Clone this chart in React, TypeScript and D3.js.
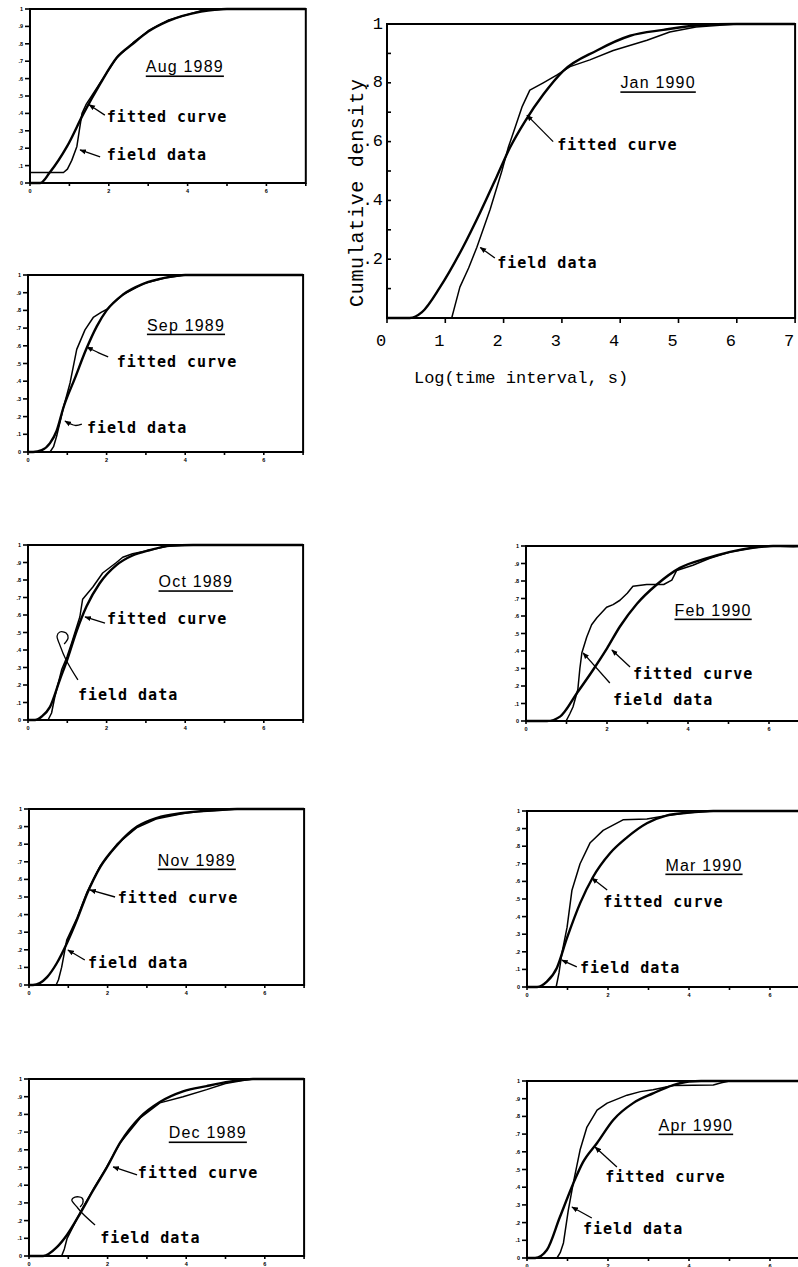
import React, { useEffect } from 'react';
import * as d3 from 'd3';

type Pt = [number, number];

// ---------- labels / ticks ----------
const titles = ['Aug 1989', 'Sep 1989', 'Oct 1989', 'Nov 1989', 'Dec 1989', 'Jan 1990', 'Feb 1990', 'Mar 1990', 'Apr 1990'];
const fittedText = 'fitted curve';
const fieldText = 'field data';
const xAxisTitle = 'Log(time interval, s)';
const yAxisTitle = 'Cumulative density';
const xTicks = [0, 1, 2, 3, 4, 5, 6, 7];
const xTickLabelsSmall = ['0', '', '2', '', '4', '', '6', ''];
const xTickLabelsBig = ['0', '1', '2', '3', '4', '5', '6', '7'];
const yTicks = [0, 0.1, 0.2, 0.3, 0.4, 0.5, 0.6, 0.7, 0.8, 0.9, 1];
const yTickLabelsSmall = ['0', '.1', '.2', '.3', '.4', '.5', '.6', '.7', '.8', '.9', '1'];
const yTickLabelsBig = ['', '', '.2', '', '.4', '', '.6', '', '.8', '', '1'];

// ---------- series (x = log time interval, y = cumulative density) ----------
const augFitted: Pt[] = [[0, 0], [0.26, 0], [0.5, 0.06], [0.94, 0.21], [1.36, 0.4], [1.78, 0.57], [2.2, 0.72], [2.61, 0.8], [3.0, 0.87], [3.5, 0.93], [4.34, 0.985], [5.0, 1], [7, 1]];
const augField: Pt[] = [[0, 0.06], [0.85, 0.06], [0.95, 0.08], [1.06, 0.13], [1.19, 0.21], [1.25, 0.3], [1.32, 0.4], [1.42, 0.45], [1.78, 0.575], [2.2, 0.72], [2.61, 0.805], [3.0, 0.875], [3.5, 0.935], [4.34, 0.99], [5.0, 1], [7, 1]];

const sepFitted: Pt[] = [[0, 0], [0.13, 0], [0.35, 0.01], [0.56, 0.05], [0.73, 0.12], [0.9, 0.25], [1.2, 0.42], [1.48, 0.58], [1.75, 0.71], [2.0, 0.8], [2.42, 0.89], [2.93, 0.95], [3.5, 0.985], [4.0, 1], [7, 1]];
const sepField: Pt[] = [[0, 0], [0.56, 0], [0.65, 0.03], [0.73, 0.09], [0.9, 0.25], [1.07, 0.39], [1.24, 0.58], [1.45, 0.69], [1.66, 0.76], [1.87, 0.79], [2.0, 0.805], [2.42, 0.89], [2.93, 0.95], [3.5, 0.985], [4.0, 1], [7, 1]];

const octFitted: Pt[] = [[0, 0], [0.18, 0], [0.35, 0.02], [0.56, 0.075], [0.81, 0.23], [0.99, 0.34], [1.24, 0.51], [1.49, 0.65], [1.82, 0.78], [2.25, 0.885], [2.66, 0.94], [3.09, 0.97], [3.6, 0.995], [4.2, 1], [7, 1]];
const octField: Pt[] = [[0, 0], [0.51, 0], [0.6, 0.04], [0.68, 0.13], [0.86, 0.29], [0.99, 0.36], [1.11, 0.44], [1.32, 0.59], [1.39, 0.69], [1.65, 0.76], [1.9, 0.84], [2.25, 0.9], [2.41, 0.93], [2.66, 0.95], [3.09, 0.97], [3.6, 0.995], [4.2, 1], [7, 1]];

const novFitted: Pt[] = [[0, 0], [0.1, 0], [0.46, 0.045], [0.71, 0.125], [0.97, 0.24], [1.22, 0.37], [1.48, 0.52], [1.81, 0.67], [2.24, 0.795], [2.75, 0.9], [3.26, 0.95], [3.92, 0.977], [4.77, 0.995], [5.3, 1], [7, 1]];
const novField: Pt[] = [[0, 0], [0.69, 0], [0.75, 0.03], [0.83, 0.1], [0.96, 0.255], [1.22, 0.38], [1.48, 0.53], [1.81, 0.675], [2.24, 0.8], [2.75, 0.895], [3.26, 0.945], [3.92, 0.975], [4.3, 0.985], [4.77, 0.99], [5.3, 1], [7, 1]];

const decFitted: Pt[] = [[0, 0], [0.36, 0], [0.71, 0.05], [0.97, 0.12], [1.3, 0.24], [1.63, 0.37], [1.98, 0.5], [2.32, 0.64], [2.83, 0.785], [3.33, 0.87], [3.92, 0.93], [4.52, 0.96], [5.1, 0.985], [5.7, 1], [7, 1]];
const decField: Pt[] = [[0, 0], [0.83, 0], [0.9, 0.04], [0.97, 0.1], [1.3, 0.245], [1.63, 0.375], [1.98, 0.505], [2.32, 0.64], [2.83, 0.78], [3.33, 0.865], [3.92, 0.9], [4.52, 0.94], [5.0, 0.975], [5.4, 0.99], [5.7, 1], [7, 1]];

const janFitted: Pt[] = [[0, 0], [0.39, 0], [0.6, 0.02], [0.91, 0.105], [1.3, 0.24], [1.6, 0.36], [1.88, 0.48], [2.11, 0.58], [2.37, 0.67], [2.68, 0.76], [3.02, 0.84], [3.6, 0.91], [4.17, 0.96], [4.74, 0.98], [5.3, 0.995], [6, 1], [7, 1]];
const janField: Pt[] = [[0, 0], [1.11, 0], [1.15, 0.03], [1.25, 0.105], [1.4, 0.17], [1.54, 0.24], [1.77, 0.37], [1.97, 0.5], [2.08, 0.58], [2.2, 0.65], [2.32, 0.72], [2.45, 0.775], [2.68, 0.8], [2.91, 0.826], [3.14, 0.855], [3.48, 0.878], [3.88, 0.91], [4.46, 0.945], [4.85, 0.973], [5.3, 0.99], [6, 1], [7, 1]];

const febFitted: Pt[] = [[0, 0], [0.52, 0], [0.84, 0.025], [1.26, 0.16], [1.65, 0.29], [2.0, 0.415], [2.32, 0.54], [2.74, 0.67], [3.23, 0.78], [3.8, 0.875], [4.47, 0.93], [5.04, 0.966], [5.6, 0.99], [6.1, 1], [7, 1]];
const febField: Pt[] = [[0, 0], [0.99, 0], [1.08, 0.04], [1.16, 0.08], [1.28, 0.18], [1.33, 0.3], [1.38, 0.39], [1.5, 0.48], [1.62, 0.55], [1.75, 0.59], [1.99, 0.65], [2.15, 0.665], [2.32, 0.69], [2.5, 0.73], [2.64, 0.77], [2.98, 0.78], [3.4, 0.78], [3.6, 0.805], [3.72, 0.86], [4.12, 0.89], [4.54, 0.93], [5.04, 0.966], [5.6, 0.99], [6.1, 1], [6.6, 0.995], [7, 1]];

const marFitted: Pt[] = [[0, 0], [0.25, 0], [0.49, 0.03], [0.74, 0.11], [0.99, 0.28], [1.31, 0.475], [1.63, 0.625], [2.05, 0.76], [2.47, 0.85], [2.96, 0.93], [3.46, 0.975], [3.95, 0.99], [4.6, 1], [7, 1]];
const marField: Pt[] = [[0, 0], [0.72, 0], [0.79, 0.08], [0.86, 0.19], [0.99, 0.34], [1.11, 0.55], [1.31, 0.7], [1.56, 0.82], [1.88, 0.89], [2.37, 0.95], [2.96, 0.955], [3.46, 0.975], [3.95, 0.99], [4.6, 1], [7, 1]];

const aprFitted: Pt[] = [[0, 0], [0.2, 0], [0.49, 0.045], [0.81, 0.23], [1.14, 0.42], [1.38, 0.54], [1.73, 0.65], [2.13, 0.78], [2.62, 0.875], [3.11, 0.93], [3.61, 0.977], [4.0, 0.997], [4.3, 1], [7, 1]];
const aprField: Pt[] = [[0, 0], [0.74, 0], [0.82, 0.03], [0.9, 0.085], [1.02, 0.27], [1.14, 0.42], [1.31, 0.61], [1.48, 0.74], [1.73, 0.835], [1.98, 0.875], [2.47, 0.92], [2.8, 0.94], [3.11, 0.95], [3.61, 0.975], [4.6, 0.977], [4.8, 0.99], [5.0, 1], [7, 1]];

// ---------- layout (pixel frames; annotation anchors in data units) ----------
type Ann = { t: Pt; fl: Pt; fa: Pt[]; dl: Pt; da: Pt[] };
type Panel = { title: string; fitted: Pt[]; field: Pt[]; left: number; top: number; bottom: number; unit: number; big: boolean; ann: Ann };

const panels: Panel[] = [
  { title: titles[0], fitted: augFitted, field: augField, left: 30, top: 9, bottom: 183, unit: 39.4, big: false,
    ann: { t: [3.93, 0.667], fl: [1.95, 0.38], fa: [[1.9, 0.39], [1.5, 0.45]], dl: [1.95, 0.16], da: [[1.78, 0.15], [1.27, 0.19]] } },
  { title: titles[1], fitted: sepFitted, field: sepField, left: 28, top: 275, bottom: 452, unit: 39.3, big: false,
    ann: { t: [4.02, 0.717], fl: [2.26, 0.51], fa: [[2.04, 0.537], [1.8, 0.56], [1.5, 0.593]], dl: [1.5, 0.136], da: [[1.37, 0.158], [1.2, 0.15], [0.94, 0.175]] } },
  { title: titles[2], fitted: octFitted, field: octField, left: 28, top: 545, bottom: 720, unit: 39.3, big: false,
    ann: { t: [4.27, 0.79], fl: [2.01, 0.577], fa: [[1.96, 0.554], [1.45, 0.589]], dl: [1.27, 0.143],
      da: [[1.27, 0.229], [0.97, 0.343], [0.81, 0.429], [0.74, 0.48], [0.81, 0.503], [0.97, 0.497], [1.02, 0.469], [0.92, 0.434]] } },
  { title: titles[3], fitted: novFitted, field: novField, left: 29, top: 809, bottom: 985, unit: 39.3, big: false,
    ann: { t: [4.27, 0.71], fl: [2.26, 0.494], fa: [[2.19, 0.5], [1.55, 0.54]], dl: [1.5, 0.125], da: [[1.42, 0.142], [0.99, 0.199]] } },
  { title: titles[4], fitted: decFitted, field: decField, left: 29, top: 1079, bottom: 1256, unit: 39.3, big: false,
    ann: { t: [4.55, 0.695], fl: [2.77, 0.469], fa: [[2.75, 0.458], [2.14, 0.503]], dl: [1.81, 0.1],
      da: [[1.68, 0.175], [1.35, 0.243], [1.22, 0.277], [1.09, 0.316], [1.17, 0.333], [1.35, 0.328], [1.37, 0.299], [1.3, 0.277]] } },
  { title: titles[5], fitted: janFitted, field: janField, left: 387, top: 24, bottom: 318, unit: 58.3, big: true,
    ann: { t: [4.65, 0.8], fl: [2.92, 0.59], fa: [[2.85, 0.6], [2.4, 0.69]], dl: [1.89, 0.187], da: [[1.85, 0.204], [1.6, 0.24]] } },
  { title: titles[6], fitted: febFitted, field: febField, left: 526, top: 546, bottom: 721, unit: 40.5, big: false,
    ann: { t: [4.62, 0.634], fl: [2.64, 0.269], fa: [[2.57, 0.309], [2.12, 0.406]], dl: [2.15, 0.12], da: [[2.07, 0.217], [1.41, 0.389]] } },
  { title: titles[7], fitted: marFitted, field: marField, left: 527, top: 811, bottom: 987, unit: 40.5, big: false,
    ann: { t: [4.37, 0.693], fl: [1.88, 0.483], fa: [[1.98, 0.551], [1.6, 0.619]], dl: [1.31, 0.108], da: [[1.23, 0.114], [0.86, 0.153]] } },
  { title: titles[8], fitted: aprFitted, field: aprField, left: 527, top: 1081, bottom: 1258, unit: 40.5, big: false,
    ann: { t: [4.17, 0.751], fl: [1.93, 0.458], fa: [[2.22, 0.514], [1.68, 0.627]], dl: [1.38, 0.164], da: [[1.6, 0.226], [1.11, 0.288]] } },
];

const LABEL_FONT = '"DejaVu Sans Mono", monospace';
const TITLE_FONT = '"Liberation Sans", Arial, sans-serif';
const AXIS_FONT = '"Liberation Mono", "Courier New", monospace';

function PanelView({ p }: { p: Panel }) {
  const x = d3.scaleLinear().domain([0, 7]).range([p.left, p.left + 7 * p.unit]);
  const y = d3.scaleLinear().domain([0, 1]).range([p.bottom, p.top]);
  const fittedLine = d3.line<Pt>().x(d => x(d[0])).y(d => y(d[1])).curve(d3.curveMonotoneX);
  const fieldLine = d3.line<Pt>().x(d => x(d[0])).y(d => y(d[1])).curve(d3.curveLinear);
  const leader = d3.line<Pt>().x(d => x(d[0])).y(d => y(d[1])).curve(d3.curveCatmullRom.alpha(0.5));
  const a = p.ann;
  const x0 = x(0), x7 = x(7), y0 = y(0), y1 = y(1);
  return (
    <g>
      {/* frame */}
      <rect x={x0} y={y1} width={x7 - x0} height={y0 - y1} fill="none" stroke="#000" strokeWidth={2} />
      {/* y ticks */}
      {yTicks.map((v, i) => (
        <g key={'y' + i}>
          {p.big ? (
            <line x1={x0 - 1} x2={x0 + 4} y1={y(v)} y2={y(v)} stroke="#000" strokeWidth={1.6} />
          ) : (
            <line x1={x0 - 5} x2={x0} y1={y(v)} y2={y(v)} stroke="#000" strokeWidth={1.6} />
          )}
          {p.big ? (
            yTickLabelsBig[i] ? (
              <text x={x0 - 4} y={y(v)} textAnchor="end" dominantBaseline="central" fontFamily={AXIS_FONT} fontSize={17} fill="#000">{yTickLabelsBig[i]}</text>
            ) : null
          ) : (
            <text x={x0 - 7} y={y(v)} textAnchor="end" dominantBaseline="central" fontFamily={TITLE_FONT} fontWeight="bold" fontSize={5.5} fill="#000">{yTickLabelsSmall[i]}</text>
          )}
        </g>
      ))}
      {/* x ticks */}
      {xTicks.map((v, i) => (
        <g key={'x' + i}>
          <line x1={x(v)} x2={x(v)} y1={y0} y2={y0 + (p.big ? 5 : 3)} stroke="#000" strokeWidth={1.6} />
          {p.big ? (
            <text x={x(v) - 6} y={y0 + 23} textAnchor="middle" dominantBaseline="central" fontFamily={AXIS_FONT} fontSize={17} fill="#000">{xTickLabelsBig[i]}</text>
          ) : (
            <text x={x(v)} y={y0 + 7.5} textAnchor="middle" dominantBaseline="central" fontFamily={TITLE_FONT} fontWeight="bold" fontSize={5.5} fill="#000">{xTickLabelsSmall[i]}</text>
          )}
        </g>
      ))}
      {/* curves */}
      <path d={fieldLine(p.field) || ''} fill="none" stroke="#000" strokeWidth={1.5} strokeLinejoin="round" />
      <path d={fittedLine(p.fitted) || ''} fill="none" stroke="#000" strokeWidth={2.4} strokeLinejoin="round" />
      {/* title */}
      <text x={x(a.t[0])} y={y(a.t[1])} textAnchor="middle" dominantBaseline="central" fontFamily={TITLE_FONT} fontSize={16} letterSpacing={1.2} fill="#000" style={{ textDecoration: 'underline' }}>{p.title}</text>
      {/* annotations */}
      <text x={x(a.fl[0])} y={y(a.fl[1])} dominantBaseline="central" fontFamily={LABEL_FONT} fontWeight="bold" fontSize={15} letterSpacing={1} fill="#000">{fittedText}</text>
      <path d={leader(a.fa) || ''} fill="none" stroke="#000" strokeWidth={1.3} markerEnd="url(#arr)" />
      <text x={x(a.dl[0])} y={y(a.dl[1])} dominantBaseline="central" fontFamily={LABEL_FONT} fontWeight="bold" fontSize={15} letterSpacing={1} fill="#000">{fieldText}</text>
      <path d={leader(a.da) || ''} fill="none" stroke="#000" strokeWidth={1.3} markerEnd={a.da.length > 3 ? undefined : 'url(#arr)'} />
      {p.big ? (
        <g>
          <text x={x(2.3)} y={y0 + 60} textAnchor="middle" dominantBaseline="central" fontFamily={AXIS_FONT} fontSize={17} fill="#000">{xAxisTitle}</text>
          <text transform={`translate(357, ${(y0 + y1) / 2 + 22}) rotate(-90)`} textAnchor="middle" dominantBaseline="central" fontFamily={AXIS_FONT} fontSize={20} textLength={228} lengthAdjust="spacing" fill="#000">{yAxisTitle}</text>
        </g>
      ) : null}
    </g>
  );
}

export default function App() {
  useEffect(() => {
    document.body.style.margin = '0';
  }, []);
  return (
    <svg width={798} height={1267} viewBox="0 0 798 1267" style={{ position: 'absolute', left: 0, top: 0, background: '#fff' }}>
      <defs>
        <marker id="arr" viewBox="0 0 10 10" refX="9" refY="5" markerWidth="5" markerHeight="5" orient="auto">
          <path d="M0,1 L10,5 L0,9 z" fill="#000" />
        </marker>
      </defs>
      <rect x={0} y={0} width={798} height={1267} fill="#fff" />
      {panels.map((p, i) => <PanelView key={i} p={p} />)}
    </svg>
  );
}
